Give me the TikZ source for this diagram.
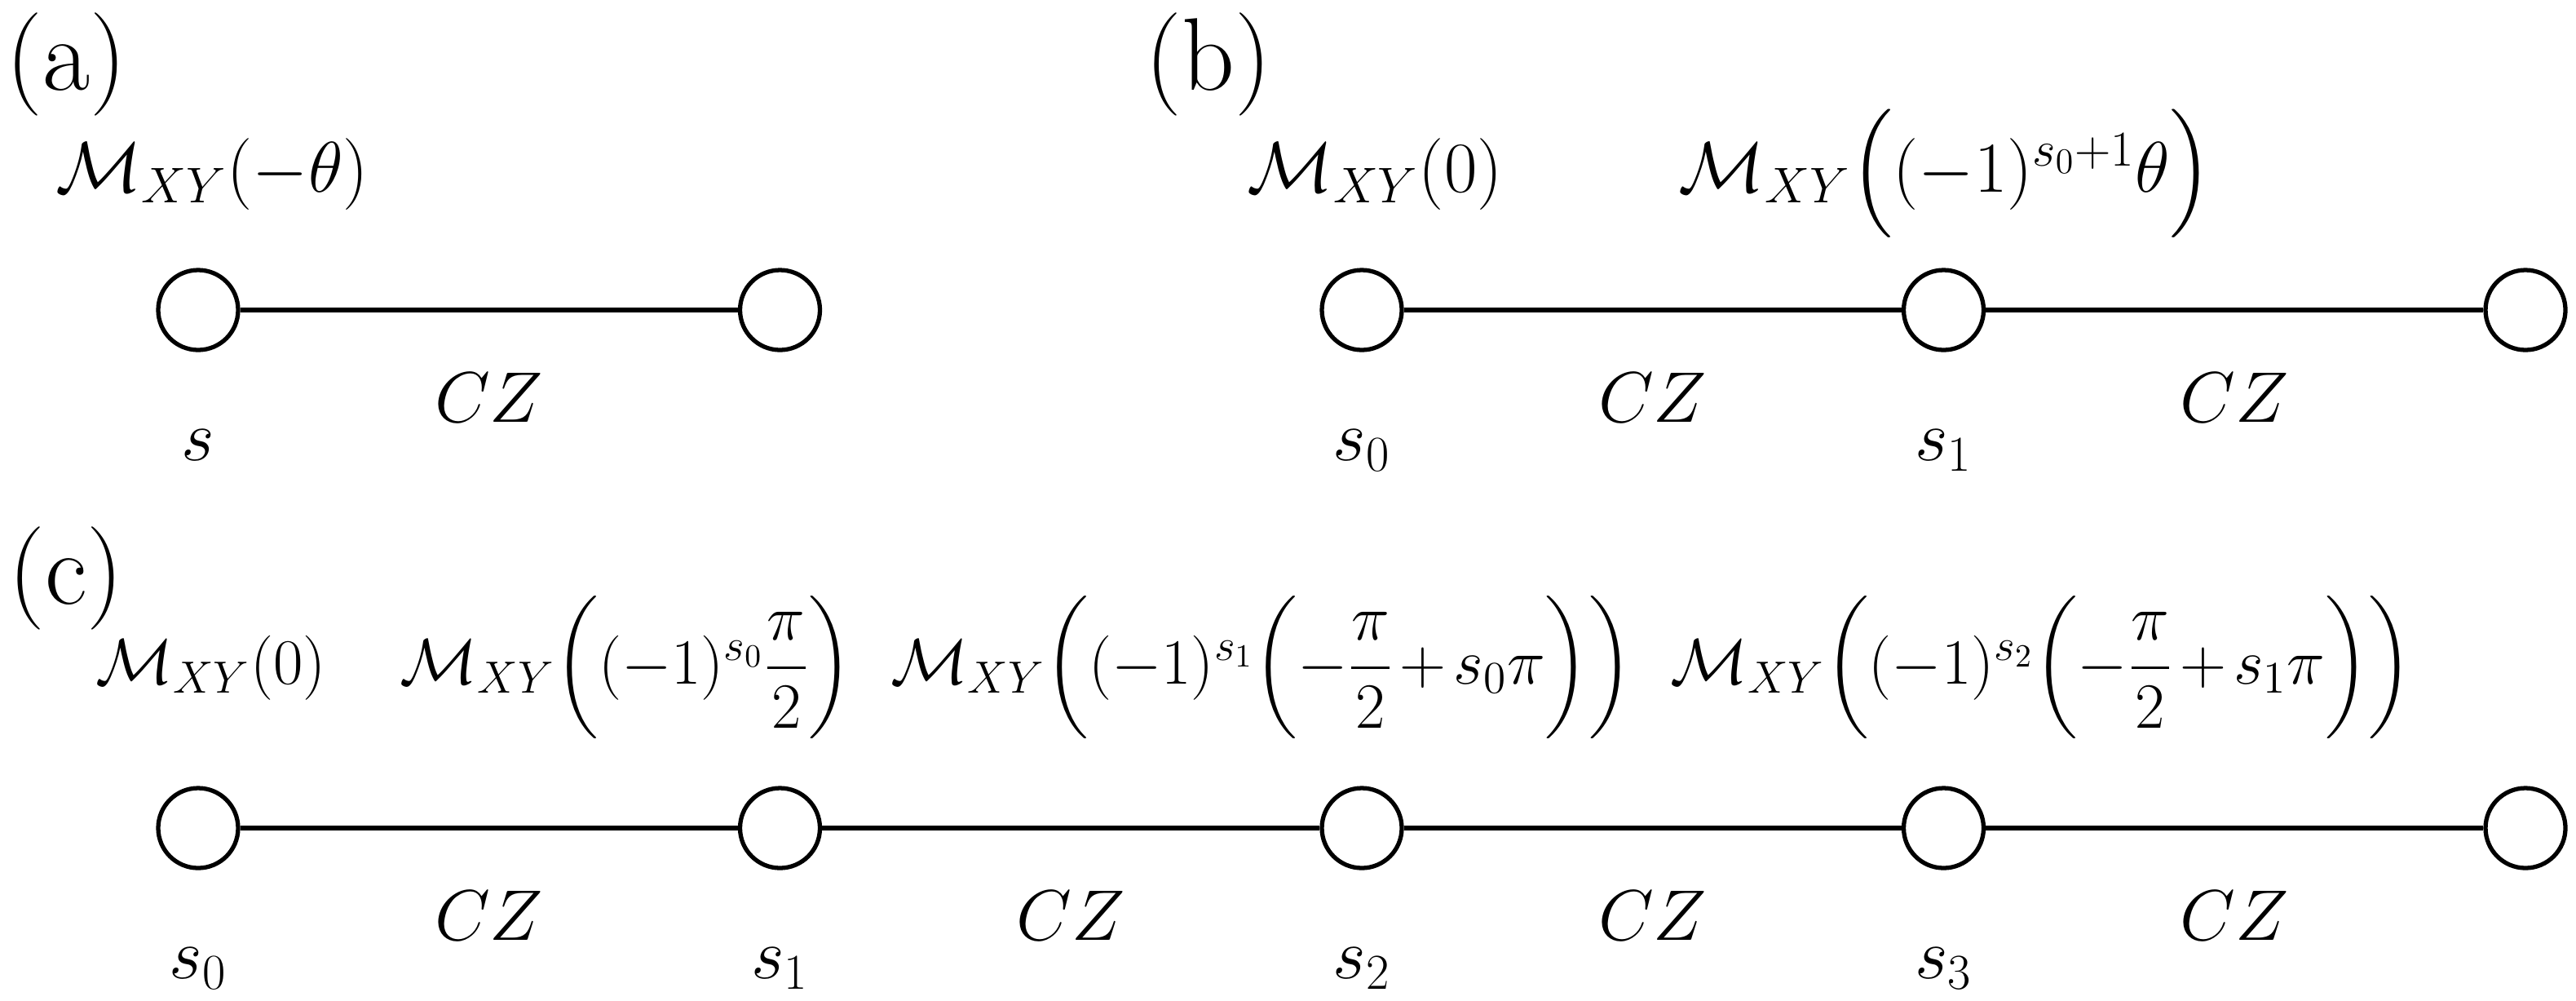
\RequirePackage{fix-cm}
\documentclass[tikz,border=0pt]{standalone}
\usepackage{amsmath}
\newcommand{\gatetext}[1]{$\medmuskip=2mu\relax #1$}
\tikzset{
  site/.style={circle,draw,line width=1.5pt,minimum size=0.98cm,inner sep=0pt,fill=white},
  bond/.style={line width=1.5pt},
  lbl/.style={font=\fontsize{25}{30}\selectfont,inner sep=0pt,anchor=base},
  gate/.style={font=\fontsize{22.5}{27}\selectfont,inner sep=0pt,anchor=base west},
  panel/.style={font=\fontsize{36}{44}\selectfont,inner sep=0pt,anchor=base west}
}

\begin{document}
\begin{tikzpicture}
    \useasboundingbox (0,0) rectangle (31.59,-12.26);

    % (a)
    \node[panel] (pa) at (0.07,-1.1) {(a)};
    \node[site] (a0) at (2.43,-3.8) {};
    \node[site] (a1) at (9.565,-3.8) {};
    \draw[bond] (a0) -- (a1) node[midway,lbl,yshift=-1.37cm] (czA) {$CZ$};
    \node[lbl] (sA) at ([yshift=-1.84cm]a0.center) {$s$};
    \node[lbl] (mA) at (2.6,-2.35) {$\mathcal{M}_{XY}(-\theta)$};

    % (b)
    \node[panel] (pb) at (14.04,-1.1) {(b)};
    \foreach \i/\x in {0/16.70,1/23.835,2/30.97} {
        \node[site] (b\i) at (\x,-3.8) {};
    }
    \foreach \i/\j in {0/1,1/2} {
        \draw[bond] (b\i) -- (b\j) node[midway,lbl,yshift=-1.37cm] (czB\i) {$CZ$};
        \node[lbl] (sB\i) at ([yshift=-1.84cm]b\i.center) {$s_{\i}$};
    }
    \node[lbl] (mB0) at (16.86,-2.35) {$\mathcal{M}_{XY}(0)$};
    \node[lbl] (mB1) at (23.86,-2.35) {\gatetext{\mathcal{M}_{XY}\Bigl((-1)^{s_0+1}\theta\Bigr)}};

    % (c)
    \node[panel] (pc) at (0.10,-7.4) {(c)};
    \foreach \i/\x in {0/2.43,1/9.565,2/16.70,3/23.835,4/30.97} {
        \node[site] (c\i) at (\x,-10.15) {};
    }
    \foreach \i/\j in {0/1,1/2,2/3,3/4} {
        \draw[bond] (c\i) -- (c\j) node[midway,lbl,yshift=-1.37cm] (czC\i) {$CZ$};
        \node[lbl] (sC\i) at ([yshift=-1.84cm]c\i.center) {$s_{\i}$};
    }
    \node[gate] (mC0) at (1.17,-8.38) {\gatetext{\mathcal{M}_{XY}(0)}};
    \node[gate] (mC1) at ([xshift=0.9cm]mC0.base east)
        {\gatetext{\mathcal{M}_{XY}\biggl((-1)^{s_0}\dfrac{\pi}{2}\biggr)}};
    \node[gate] (mC2) at ([xshift=0.45cm]mC1.base east)
        {\gatetext{\mathcal{M}_{XY}\biggl((-1)^{s_1}\biggl(-\dfrac{\pi}{2}+s_0\pi\biggr)\biggr)}};
    \node[gate] (mC3) at ([xshift=0.45cm]mC2.base east)
        {\gatetext{\mathcal{M}_{XY}\biggl((-1)^{s_2}\biggl(-\dfrac{\pi}{2}+s_1\pi\biggr)\biggr)}};
\end{tikzpicture}
\end{document}
